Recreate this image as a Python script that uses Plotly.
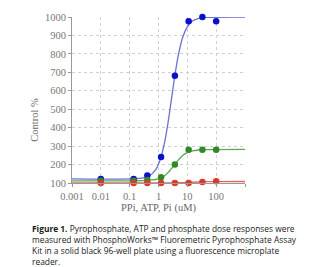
import plotly.graph_objects as go

# Measured points (uM, Control %)
conc = [0.01, 0.137, 0.41, 1.23, 3.7, 11.1, 33.3, 100]
ppi = [122, 122, 140, 241, 681, 977, 1000, 977]
atp = [112, 112, 116, 131, 200, 280, 280, 280]
pi = [100, 100, 100, 100, 100, 100, 105, 110]

# Fitted curves
curve_x = [0.001, 0.1, 0.3, 0.5, 0.8, 1.2, 1.6, 2, 2.5, 3, 4, 5, 7, 10, 15, 25, 50, 1000]
ppi_fit = [122, 122.5, 128, 141, 173, 236, 315, 398, 498, 586, 717, 802, 893, 947, 978, 993, 998, 1000]
atp_fit = [112, 112, 113, 116, 119, 128, 138, 152, 168, 183, 209, 227, 250, 265, 274, 279, 281, 282]
pi_fit = [100, 100, 100, 100, 100, 100, 100, 100, 100.3, 100.5, 101, 101.5, 102, 103, 104, 105.5, 107, 108]

x_ticks = [0.001, 0.01, 0.1, 1, 10, 100, 1000]
x_labels = ["0.001", "0.01", "0.1", "1", "10", "100", ""]
y_ticks = [100, 200, 300, 400, 500, 600, 700, 800, 900, 1000]

caption = ("<b>Figure 1.</b> Pyrophosphate, ATP and phosphate dose responses were<br>"
           "measured with PhosphoWorks™ Fluoremetric Pyrophosphate Assay<br>"
           "Kit in a solid black 96-well plate using a fluorescence microplate<br>"
           "reader.")

series = [
    (ppi_fit, ppi, "#6f6fd0", "#0a10c8"),
    (atp_fit, atp, "#5ea84e", "#2f8a25"),
    (pi_fit, pi, "#e2685a", "#d93a2a"),
]

fig = go.Figure()
for fit, pts, lc, mc in series:
    fig.add_trace(go.Scatter(x=curve_x, y=fit, mode="lines", line=dict(color=lc, width=1.3, shape="spline"),
                             hoverinfo="skip", cliponaxis=False))
for fit, pts, lc, mc in series:
    fig.add_trace(go.Scatter(x=conc, y=pts, mode="markers", marker=dict(color=mc, size=6.5),
                             cliponaxis=False))

axis_font = dict(family="Liberation Serif", size=10.5, color="#777777")
fig.update_layout(
    width=310, height=267, autosize=False,
    margin=dict(l=72, r=64.5, t=16.5, b=83.5),
    paper_bgcolor="white", plot_bgcolor="white",
    showlegend=False,
    xaxis=dict(type="log", range=[-3, 3], tickvals=x_ticks, ticktext=x_labels,
               showgrid=True, gridcolor="#d0d0d0", griddash="dot", gridwidth=1,
               showline=True, linecolor="#999999", linewidth=1,
               ticks="outside", ticklen=3, tickcolor="#999999",
               tickfont=axis_font, zeroline=False,
               title=dict(text="PPi, ATP, Pi (uM)", font=dict(family="Liberation Serif", size=10.5, color="#666666"), standoff=2)),
    yaxis=dict(range=[100, 1000], tickvals=y_ticks,
               showgrid=True, gridcolor="#d0d0d0", griddash="dot", gridwidth=1,
               showline=True, linecolor="#999999", linewidth=1,
               ticks="outside", ticklen=3, tickcolor="#999999",
               tickfont=axis_font, zeroline=False),
    annotations=[
        dict(text="Control %", xref="paper", yref="paper", x=-0.215, y=0.38, textangle=-90,
             showarrow=False, font=dict(family="Liberation Serif", size=10.5, color="#666666"),
             xanchor="center", yanchor="middle"),
        dict(text=caption, xref="paper", yref="paper", x=-0.245, y=-0.228, xanchor="left", yanchor="top",
             align="left", showarrow=False,
             font=dict(family="Open Sans", size=8.4, color="#1a1a1a")),
    ],
)

fig.write_html("out.html")
